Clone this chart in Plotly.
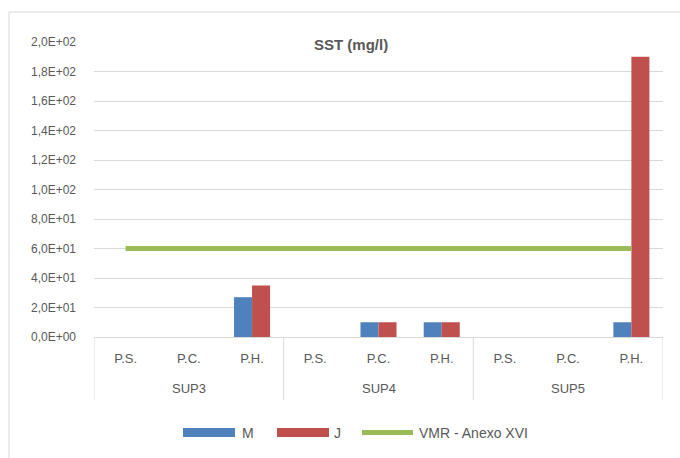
import plotly.graph_objects as go

groups = ["SUP3"] * 3 + ["SUP4"] * 3 + ["SUP5"] * 3
points = ["P.S.", "P.C.", "P.H."] * 3
m_values = [0, 0, 27, 0, 10, 10, 0, 0, 10]
j_values = [0, 0, 35, 0, 10, 10, 0, 0, 190]
vmr_values = [60] * 9
y_ticks = [0, 20, 40, 60, 80, 100, 120, 140, 160, 180, 200]
y_ticktext = ["0,0E+00", "2,0E+01", "4,0E+01", "6,0E+01", "8,0E+01", "1,0E+02",
              "1,2E+02", "1,4E+02", "1,6E+02", "1,8E+02", "2,0E+02"]

W, H = 680, 458
L, R, T, B = 94, 17, 42, 121
PW, PH = W - L - R, H - T - B

def px(x):
    return (x - L) / PW

def py(y):
    return (H - B - y) / PH

BLUE, RED, GREEN = "#4F81BD", "#C0504D", "#9BBB59"
GRID = "#D9D9D9"
TXT = "#595959"
FONT = "Liberation Sans"

# one category per (group, point) pair; shown with the point label only
cats = [g + " " + p for g, p in zip(groups, points)]

fig = go.Figure()
fig.add_trace(go.Bar(x=cats, y=m_values, name="M", marker_color=BLUE, marker_line_width=0))
fig.add_trace(go.Bar(x=cats, y=j_values, name="J", marker_color=RED, marker_line_width=0))
fig.add_trace(go.Scatter(x=cats, y=vmr_values, name="VMR - Anexo XVI",
                         mode="lines", line=dict(color=GREEN, width=5)))

shapes = [
    dict(type="line", xref="paper", yref="paper", x0=px(9), x1=px(W + 5), y0=py(12), y1=py(12),
         line=dict(color=GRID, width=1)),
    dict(type="line", xref="paper", yref="paper", x0=px(9), x1=px(9), y0=py(12), y1=py(H + 5),
         line=dict(color=GRID, width=1)),
    dict(type="rect", xref="paper", yref="paper", x0=px(183), x1=px(235), y0=py(437), y1=py(428),
         fillcolor=BLUE, line=dict(width=0)),
    dict(type="rect", xref="paper", yref="paper", x0=px(277), x1=px(329), y0=py(437), y1=py(428),
         fillcolor=RED, line=dict(width=0)),
    dict(type="line", xref="paper", yref="paper", x0=px(362), x1=px(413), y0=py(432.5), y1=py(432.5),
         line=dict(color=GREEN, width=5)),
]

annotations = [
    dict(text="<b>SST (mg/l)</b>", xref="paper", yref="paper", x=px(351), y=py(44),
         showarrow=False, font=dict(family=FONT, size=15, color=TXT), xanchor="center", yanchor="middle"),
    dict(text="M", xref="paper", yref="paper", x=px(240), y=py(432.5), showarrow=False,
         font=dict(family=FONT, size=14, color=TXT), xanchor="left", yanchor="middle"),
    dict(text="J", xref="paper", yref="paper", x=px(332), y=py(432.5), showarrow=False,
         font=dict(family=FONT, size=14, color=TXT), xanchor="left", yanchor="middle"),
    dict(text="VMR - Anexo XVI", xref="paper", yref="paper", x=px(417), y=py(432.5), showarrow=False,
         font=dict(family=FONT, size=14, color=TXT), xanchor="left", yanchor="middle"),
]

# group labels and group dividers under the category axis
group_names = list(dict.fromkeys(groups))
for gi, g in enumerate(group_names):
    idx = [i for i, gg in enumerate(groups) if gg == g]
    annotations.append(dict(text=g, xref="x", yref="paper", x=(idx[0] + idx[-1]) / 2, y=py(389),
                            showarrow=False, font=dict(family=FONT, size=13, color=TXT),
                            xanchor="center", yanchor="middle"))
    shapes.append(dict(type="line", xref="x", yref="paper", x0=idx[0] - 0.5, x1=idx[0] - 0.5,
                       y0=py(337), y1=py(400), line=dict(color=GRID, width=1)))
    if gi == len(group_names) - 1:
        shapes.append(dict(type="line", xref="x", yref="paper", x0=idx[-1] + 0.5, x1=idx[-1] + 0.5,
                           y0=py(337), y1=py(400), line=dict(color=GRID, width=1)))

fig.update_layout(
    width=W, height=H,
    margin=dict(l=L, r=R, t=T, b=B, autoexpand=False),
    paper_bgcolor="white", plot_bgcolor="white",
    barmode="group", bargap=0.43, bargroupgap=0,
    showlegend=False,
    font=dict(family=FONT, size=12, color=TXT),
    shapes=shapes, annotations=annotations,
    xaxis=dict(type="category", range=[-0.5, len(cats) - 0.5], tickvals=cats, ticktext=points,
               showline=True, linecolor=GRID, linewidth=1, showgrid=False, ticks="",
               ticklabelstandoff=9, tickfont=dict(family=FONT, size=13, color=TXT)),
    yaxis=dict(range=[0, 200], tickvals=y_ticks, ticktext=y_ticktext, showgrid=True,
               gridcolor=GRID, gridwidth=1, zeroline=False, showline=False, ticks="",
               ticklabelstandoff=17, tickfont=dict(family=FONT, size=12, color=TXT)),
)

fig.write_html("out.html", config={"displayModeBar": False},
               post_script="document.body.style.margin='0';")
